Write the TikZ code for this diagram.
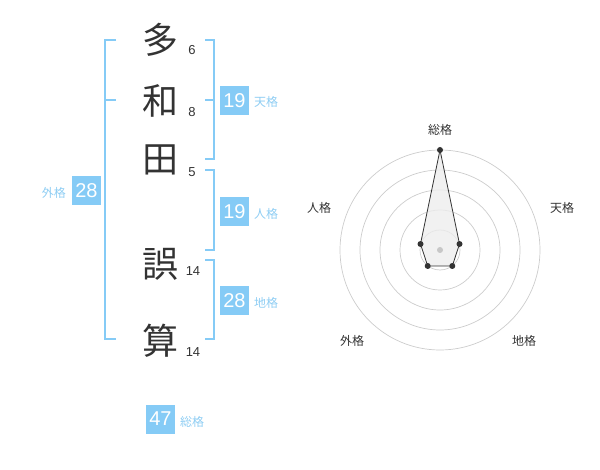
\documentclass[tikz,border=0pt]{standalone}
\usepackage{fontspec}
\setmainfont{Liberation Sans}
\newfontfamily\cjk{Noto Sans CJK JP}
\definecolor{bl}{HTML}{85CBF6}
\definecolor{bltxt}{HTML}{8ECDF3}
\definecolor{ink}{HTML}{333333}
\definecolor{ring}{HTML}{CCCCCC}
\tikzset{
  kanji/.style={font=\cjk\fontsize{36}{36}\selectfont, text=ink, inner sep=0pt},
  strokes/.style={font=\fontsize{13}{13}\selectfont, text=ink, inner sep=0pt},
  numbox/.style={fill=bl, text=white, minimum width=29pt, minimum height=29pt, inner sep=0pt, font=\fontsize{20}{20}\selectfont},
  kaku/.style={text=bltxt, font=\cjk\fontsize{12}{12}\selectfont, inner sep=0pt},
  brk/.style={draw=bl, line width=2pt},
  radlbl/.style={text=ink, font=\cjk\fontsize{12}{12}\selectfont, inner sep=0pt},
  ringc/.style={draw=ring, line width=0.7pt},
  dot/.style={circle, fill=ink, inner sep=0pt, minimum size=6pt}
}
\begin{document}
\begin{tikzpicture}[x=1pt,y=-1pt]
\useasboundingbox (0,0) rectangle (600,470);
% kanji
\node[kanji] (k1) at (160,40) {多};
\node[kanji] (k2) at (160,101) {和};
\node[kanji] (k3) at (160,160) {田};
\node[kanji] (k4) at (160,264) {誤};
\node[kanji] (k5) at (160,341) {算};
% strokes
\node[strokes] (s1) at (192,50) {6};
\node[strokes] (s2) at (192,112) {8};
\node[strokes] (s3) at (192,172) {5};
\node[strokes] (s4) at (193,271) {14};
\node[strokes] (s5) at (193,352) {14};
% brackets
\draw[brk] (116,40) -- (105,40) -- (105,339) -- (116,339);
\draw[brk] (105,100) -- (116,100);
\draw[brk] (205,40) -- (214,40) -- (214,159) -- (205,159);
\draw[brk] (205,100) -- (214,100);
\draw[brk] (205,170) -- (214,170) -- (214,250) -- (205,250);
\draw[brk] (205,260) -- (214,260) -- (214,339) -- (205,339);
% boxes
\node[numbox] (ten) at (234.5,100.5) {19};
\node[kaku, anchor=west] (tenl) at (254,102) {天格};
\node[numbox] (jin) at (234.5,212) {19};
\node[kaku, anchor=west] (jinl) at (254,214) {人格};
\node[numbox] (chi) at (234.5,300.5) {28};
\node[kaku, anchor=west] (chil) at (254,303) {地格};
\node[numbox] (gai) at (86.5,191) {28};
\node[kaku, anchor=east] (gail) at (66,193) {外格};
\node[numbox] (sou) at (160.5,419) {47};
\node[kaku, anchor=west] (soul) at (180,422) {総格};
% radar
\coordinate (c) at (440,250);
\foreach \r in {20,40,60,80,100} \draw[ringc] (c) circle (\r);
\coordinate (p1) at (440,150);
\coordinate (p2) at (459.5,244);
\coordinate (p3) at (452.3,266);
\coordinate (p4) at (427.7,266);
\coordinate (p5) at (420.5,244);
\draw[ink, line width=0.8pt, fill=black!7, fill opacity=0.8] (p1) -- (p2) -- (p3) -- (p4) -- (p5) -- cycle;
\fill[black!22] (c) circle (3);
\foreach \p in {p1,p2,p3,p4,p5} \node[dot] at (\p) {};
\node[radlbl] (r1) at (440,130) {総格};
\node[radlbl] (r2) at (562,208) {天格};
\node[radlbl] (r3) at (524,341) {地格};
\node[radlbl] (r4) at (352,341) {外格};
\node[radlbl] (r5) at (319,208) {人格};
\end{tikzpicture}
\end{document}
